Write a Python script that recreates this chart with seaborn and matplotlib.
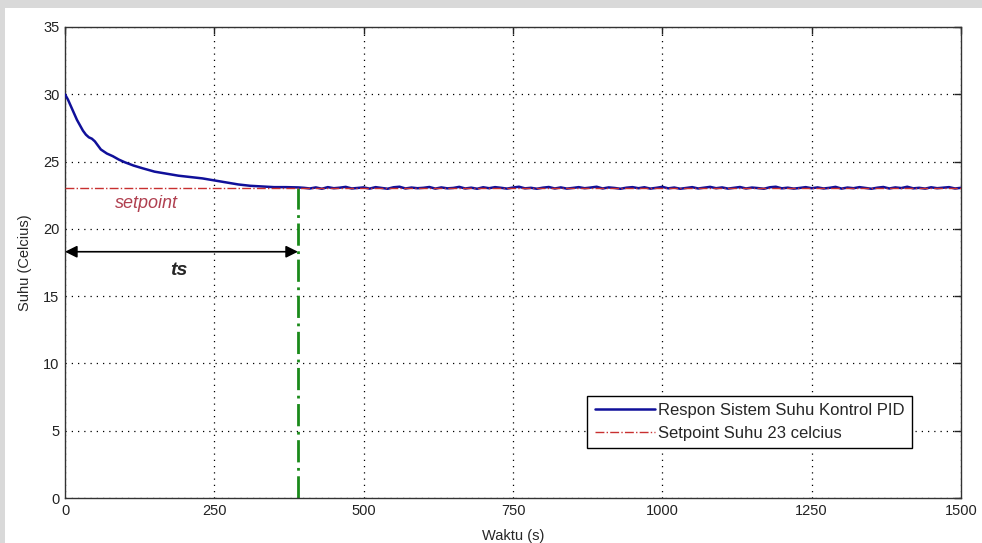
import numpy as np
import pandas as pd
import seaborn as sns
import matplotlib.pyplot as plt
from matplotlib.patches import Rectangle

sns.set_style("white")
plt.rcParams['font.family'] = ['Liberation Sans', 'DejaVu Sans']

# transient part of the response
t_decay = [0, 5, 10, 15, 20, 25, 30, 35, 40, 45, 50, 55, 60, 65, 70, 80, 90,
           100, 115, 130, 150, 170, 190, 210, 230, 250, 270, 290, 310, 330,
           350, 370, 390]
y_decay = [30.0, 29.6, 29.1, 28.6, 28.1, 27.7, 27.3, 27.0, 26.8, 26.7, 26.5,
           26.2, 25.9, 25.75, 25.6, 25.4, 25.15, 24.95, 24.7, 24.5, 24.25,
           24.1, 23.95, 23.85, 23.75, 23.6, 23.45, 23.3, 23.2, 23.15, 23.1,
           23.1, 23.08]

# steady-state part, sampled every 10 s
t_steady = list(range(400, 1501, 10))
y_steady = [23.05, 23.0, 23.08, 22.98, 23.1, 23.02, 23.06, 23.12, 23.0, 23.04,
            23.08, 22.99, 23.1, 23.04, 22.98, 23.09, 23.13, 23.0, 23.07, 23.02,
            23.05, 23.11, 22.99, 23.08, 23.01, 23.04, 23.12, 23.0, 23.06, 22.98,
            23.09, 23.02, 23.1, 23.05, 22.99, 23.07, 23.13, 23.01, 23.05, 22.98,
            23.06, 23.11, 23.0, 23.08, 22.99, 23.04, 23.1, 23.02, 23.07, 23.13,
            23.0, 23.08, 23.04, 22.98, 23.06, 23.1, 23.02, 23.09, 22.99, 23.05,
            23.12, 23.01, 23.07, 22.98, 23.04, 23.1, 23.0, 23.06, 23.12, 23.02,
            23.08, 22.99, 23.05, 23.11, 23.0, 23.07, 23.03, 22.98, 23.09, 23.13,
            23.01, 23.06, 22.99, 23.04, 23.1, 23.02, 23.08, 23.0, 23.05, 23.12,
            22.99, 23.07, 23.02, 23.1, 23.04, 22.98, 23.06, 23.11, 23.0, 23.08,
            23.03, 23.13, 23.01, 23.05, 22.99, 23.09, 23.02, 23.06, 23.1, 23.0,
            23.05]

setpoint_t = [0, 1500]
setpoint_y = [23, 23]
ts_value = 390

df_resp = pd.DataFrame({"t": t_decay + t_steady, "y": y_decay + y_steady})
df_sp = pd.DataFrame({"t": setpoint_t, "y": setpoint_y})

fig = plt.figure(figsize=(9.82, 5.43), dpi=100, facecolor="#d9d9d9")
fig.patches.append(Rectangle((5 / 982, 0), 977 / 982, 1 - 8 / 543,
                             transform=fig.transFigure, facecolor="white",
                             edgecolor="none", zorder=-1))
ax = fig.add_axes([65 / 982, 45 / 543, 896 / 982, 471 / 543])

sns.lineplot(data=df_resp, x="t", y="y", ax=ax, color="#10109a", lw=1.8,
             label="Respon Sistem Suhu Kontrol PID", zorder=3)
sns.lineplot(data=df_sp, x="t", y="y", ax=ax, color="#c83030", lw=1.0,
             linestyle="-.", dashes=[10, 4, 1.5, 4],
             label="Setpoint Suhu 23 celcius", zorder=4)

# settling time marker
ax.plot([ts_value, ts_value], [0, 23], color="#1a8a1a", lw=2, linestyle="-.",
        dashes=[8, 2, 1, 2], zorder=2)
ax.annotate("", xy=(0, 18.3), xytext=(ts_value, 18.3),
            arrowprops=dict(arrowstyle="<|-|>", color="black", lw=1.2,
                            mutation_scale=18, shrinkA=0, shrinkB=0))
ax.text(190, 16.9, "ts", fontsize=14, fontweight="bold", fontstyle="italic",
        ha="center", va="center")
ax.text(137, 21.9, "setpoint", fontsize=13, fontstyle="italic",
        color="#b04050", ha="center", va="center")

ax.set_xlim(0, 1500)
ax.set_ylim(0, 35)
ax.set_xticks([0, 250, 500, 750, 1000, 1250, 1500])
ax.set_yticks([0, 5, 10, 15, 20, 25, 30, 35])
ax.grid(True, color="black", linestyle=(0, (1, 4)), lw=0.9)
ax.tick_params(direction="in", length=5, width=1, top=True, right=True,
               labelsize=10.5, colors="#222222", pad=4)
for s in ax.spines.values():
    s.set_color("#333333")
    s.set_linewidth(1)
ax.set_xlabel("Waktu (s)", fontsize=10.5, labelpad=8)
ax.set_ylabel("Suhu (Celcius)", fontsize=10.5, labelpad=8)

leg = ax.legend(loc="upper left", bbox_to_anchor=(0.583, 0.217),
                borderaxespad=0, fancybox=False, edgecolor="black",
                framealpha=1, fontsize=12, handlelength=3.6,
                handletextpad=0.2, labelspacing=0.45, borderpad=0.45)
leg.get_frame().set_linewidth(1)

fig.savefig("out.png", dpi=100, facecolor=fig.get_facecolor())
